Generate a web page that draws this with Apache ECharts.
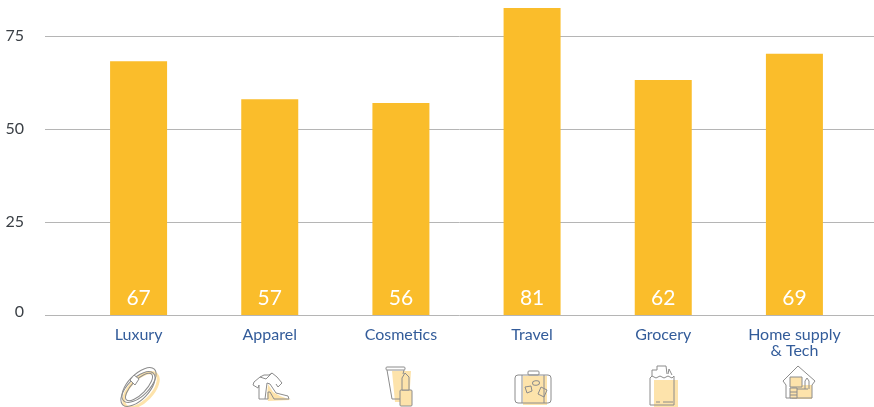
<!DOCTYPE html>
<html><head><meta charset="utf-8">
<style>html,body{margin:0;padding:0;background:#fff}#c{width:874px;height:407px}</style>
<script src="https://cdn.jsdelivr.net/npm/echarts@6/dist/echarts.min.js"></script>
</head><body><div id="c"></div>
<script>
const categories = ['Luxury','Apparel','Cosmetics','Travel','Grocery','Home supply\n& Tech'];
const barHeights = [68.2,58,57,82.5,63.2,70.2];
const valueLabels = [67,57,56,81,62,69];
const yTicks = [0,25,50,75];
const yMax = 83.87;

const S='#8c8c8c', Y='#fde3ab';
const st={stroke:S,fill:'none',lineWidth:1};
const fl={fill:Y,stroke:'none'};
const sf={fill:Y,stroke:S,lineWidth:1};
const P=(points,style)=>({type:'polygon',shape:{points},style});
const L=(points)=>({type:'polyline',shape:{points},style:st});
const R=(x,y,width,height,style,r)=>({type:'rect',shape:{x,y,width,height,r:r||0},style});
const E=(x,y,rx,ry,rot,style)=>({type:'ellipse',x,y,rotation:rot,shape:{cx:0,cy:0,rx,ry},style});
const icons=[
 // ring
 E(141,390,22,11,0.8,{fill:'none',stroke:Y,lineWidth:3}),
 E(138,389,22,10.5,0.8,st),E(139,385,22,10.5,0.8,st),E(139,387,18,7,0.8,st),
 P([[130,380],[134,375],[139,379],[135,385]],{fill:'#fff',stroke:S,lineWidth:1}),
 // apparel
 P([[267,396],[268,384],[273,392],[280,396],[291,400],[268,401]],fl),
 L([[260,377],[254,382],[253,385],[258,388],[259,385],[259,399],[268,399]]),
 L([[260,377],[264,375],[269,375],[272,373],[277,377],[282,383],[278,387],[276,384]]),
 L([[260,377],[266,379],[272,373]]),
 L([[265,399],[267,383],[270,384],[276,393],[288,396],[289,399],[274,399],[270,392],[268,392],[268,399]]),
 // cosmetics
 P([[392,371],[411,371],[409,402],[395,402]],fl),
 R(386,367,19,3,st,1),
 L([[387,370],[392,399],[400,399]]),L([[404,370],[403,374]]),
 R(400,390,12,16,sf,1),
 P([[402,390],[402,378],[405,373],[409,377],[409,390]],sf),
 // travel
 R(523,376,24,29,fl),
 R(515,375,36,28,st,3),
 R(528,371,11,4,st,1),
 L([[522,375],[522,403]]),L([[544,375],[544,403]]),
 P([[525,387],[531,386],[532,391],[527,393]],st),
 E(536,383,3.5,2.2,0.2,st),
 P([[541,387],[547,390],[544,397],[538,394]],st),
 // grocery
 R(654,380,24,27,fl),
 L([[652,376],[652,370],[657,370],[657,366],[666,366],[667,374]]),
 L([[668,374],[669,369],[672,375]]),
 L([[650,378],[652,376],[656,378],[660,376],[664,378],[668,376],[672,378],[674,376]]),
 L([[650,378],[650,405],[674,405],[674,376]]),
 L([[656,402],[660,402]]),L([[663,402],[673,402]]),
 // home
 R(792,385,20,14,fl),
 L([[783,381],[798,366],[815,381],[812,385],[812,398],[786,398],[786,385],[783,381]]),
 R(790,377,12,10,sf),
 R(790,388,7,10,sf),
 L([[790,392],[797,392]]),L([[790,395],[797,395]]),
 L([[797,389],[808,389]]),
 L([[805,389],[805,381],[807,378],[809,381],[809,389]]),
];

const chart=echarts.init(document.getElementById('c'),null,{renderer:'canvas'});
chart.setOption({
 animation:false,
 textStyle:{fontFamily:'Lato'},
 grid:[
  {left:45,right:0,top:3,height:312},
  {left:73,width:787,top:3,height:312}
 ],
 xAxis:[
  {type:'value',gridIndex:0,min:0,max:1,show:false},
  {type:'category',gridIndex:1,data:categories,
   axisLine:{show:false},axisTick:{show:false},
   axisLabel:{interval:0,margin:12,color:'#335c9a',fontSize:16,lineHeight:16,fontFamily:'Lato'}}
 ],
 yAxis:[
  {type:'value',gridIndex:0,min:0,max:yMax,interval:25,
   axisLine:{show:false},axisTick:{show:false},
   splitLine:{show:true,showMaxLine:false,lineStyle:{color:'#b5b5b5',width:1}},
   axisLabel:{margin:21,color:'#3a3f45',fontSize:16,fontFamily:'Lato',showMaxLabel:false,
    formatter:v=>v===0?'{z|0}':(yTicks.includes(v)?String(v):''),
    rich:{z:{fontSize:16,fontFamily:'Lato',color:'#3a3f45',padding:[0,0,6,0]}}}},
  {type:'value',gridIndex:1,min:0,max:yMax,interval:25,show:false}
 ],
 series:[{
  type:'bar',xAxisIndex:1,yAxisIndex:1,data:barHeights,barWidth:57,
  itemStyle:{color:'#fabd2b'},
  label:{show:true,position:'insideBottom',distance:6,color:'#fff',fontSize:21,fontFamily:'Lato',
   formatter:p=>String(valueLabels[p.dataIndex])}
 }],
 graphic:{elements:icons.map(o=>Object.assign({silent:true},o))}
});
</script></body></html>
